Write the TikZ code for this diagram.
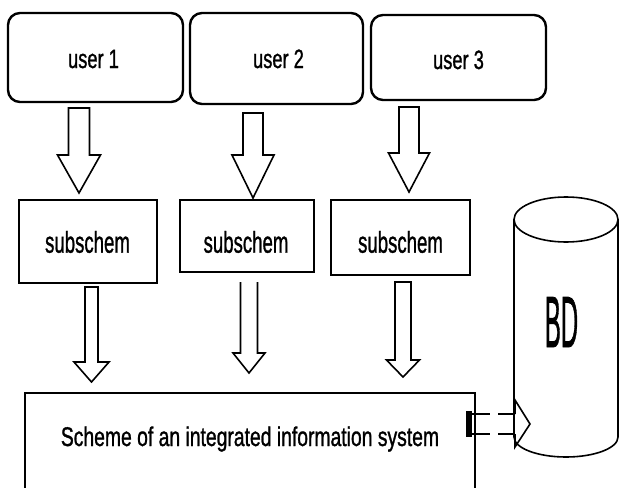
\documentclass[tikz,border=0pt]{standalone}
\usepackage{fontspec}
\usepackage{graphicx}
\setmainfont{Liberation Sans}[FakeBold=1.3]
\newcommand\usertxt[1]{\fontsize{26.5}{26.5}\selectfont\scalebox{0.69}[1]{#1}}
\newcommand\subtxt[1]{\fontsize{30}{30}\selectfont\scalebox{0.62}[1]{#1}}
\newcommand\systxt[1]{\fontsize{27}{27}\selectfont\scalebox{0.716}[1]{#1}}
\newcommand\bdtxt[1]{\fontsize{72.6}{72.6}\selectfont\scalebox{0.33}[1]{#1}}
% cx, top, head start, tip, shaft half, head half
\newcommand\blkarrow[6]{%
  \draw[blk] (#1-#5,-#2) -- (#1-#5,-#3) -- (#1-#6,-#3) -- (#1,-#4) -- (#1+#6,-#3) -- (#1+#5,-#3) -- (#1+#5,-#2) -- cycle;}
\newcommand\blkarrowopen[6]{%
  \draw[blk] (#1-#5,-#2) -- (#1-#5,-#3) -- (#1-#6,-#3) -- (#1,-#4) -- (#1+#6,-#3) -- (#1+#5,-#3) -- (#1+#5,-#2);}
\begin{document}
\begin{tikzpicture}[x=1pt,y=1pt,
  ubox/.style={draw, line width=2.4pt, rounded corners=12pt, inner sep=0pt},
  sbox/.style={draw, line width=2pt, inner sep=0pt},
  txt/.style={inner sep=0pt, anchor=base},
  blk/.style={draw, line width=1.6pt, line join=miter}]
\useasboundingbox (0,0) rectangle (620,-487);
\fill[white] (0,0) rectangle (620,-487);
% user boxes
\node[ubox, minimum width=175pt, minimum height=89pt] (u1) at (95.5,-57.5) {};
\node[ubox, minimum width=173pt, minimum height=91pt] (u2) at (276.5,-58.5) {};
\node[ubox, minimum width=175pt, minimum height=85pt] (u3) at (458.5,-57.5) {};
\node[txt] (tu1) at (93.5,-68) {\usertxt{user 1}};
\node[txt] (tu2) at (278.5,-68) {\usertxt{user 2}};
\node[txt] (tu3) at (458.5,-69) {\usertxt{user 3}};
% subschem boxes
\node[sbox, minimum width=138pt, minimum height=83pt] (s1) at (88,-241.5) {};
\node[sbox, minimum width=134pt, minimum height=72pt] (s2) at (247,-236) {};
\node[sbox, minimum width=139pt, minimum height=75pt] (s3) at (400.5,-237.5) {};
\node[txt] (ts1) at (87.5,-252.7) {\subtxt{subschem}};
\node[txt] (ts2) at (246,-252.7) {\subtxt{subschem}};
\node[txt] (ts3) at (400.5,-252.7) {\subtxt{subschem}};
% top arrows
\blkarrow{79}{108}{155}{193}{10.5}{21.5}
\blkarrow{253}{113}{155}{198}{10}{21}
\blkarrow{409}{107}{153}{192}{10}{20.5}
% lower arrows
\blkarrow{91.5}{287}{362}{382}{6.5}{17.5}
\blkarrowopen{249}{282}{353}{373}{8.5}{16}
\blkarrow{403}{282}{360}{377}{8}{16.5}
% system box (open at the bottom)
\draw[line width=2pt] (25,-490) -- (25,-393) -- (475,-393) -- (475,-490);
\node[txt] (tsys) at (250,-446) {\systxt{Scheme of an integrated information system}};
% cylinder BD
\draw[line width=1.6pt] (566,-219.5) ellipse [x radius=52, y radius=22.5];
\draw[line width=1.6pt] (514,-219.5) -- (514,-437) arc[start angle=180, end angle=360, x radius=52, y radius=20] -- (618,-219.5);
\node[txt] (tbd) at (561.5,-347) {\bdtxt{BD}};
% arrow from system box to BD
\fill (466,-411) rectangle (472,-437);
\draw[line width=1.8pt, dash pattern=on 18pt off 8pt] (472,-414) -- (515,-414);
\draw[line width=1.8pt, dash pattern=on 18pt off 8pt] (472,-434) -- (515,-434);
\draw[line width=1.6pt, line join=miter] (515,-414) -- (515,-400) -- (530,-424) -- (515,-447) -- (515,-434);
\end{tikzpicture}
\end{document}
